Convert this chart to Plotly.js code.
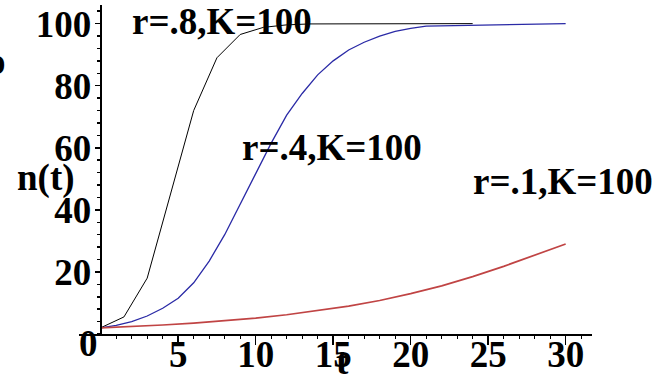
<!DOCTYPE html>
<html>
<head>
<meta charset="utf-8">
<script src="https://cdn.plot.ly/plotly-3.0.1.min.js"></script>
<style>
    html, body { margin: 0; padding: 0; background: #ffffff; }
    #chart { width: 670px; height: 375px; }
</style>
</head>
<body>
<div id="chart"></div>
<script>
// ---------- Data ---------- //
const tFast = [0, 1.5, 3, 4.5, 6, 7.5, 9, 10.5, 12, 13.5, 24];
const nFast = [2, 5.5, 18, 45, 72, 89, 96.5, 98.8, 99.6, 99.9, 100];

const tMid = [0, 1, 2, 3, 4, 5, 6, 7, 8, 9, 10, 11, 12, 13, 14, 15, 16, 17, 18, 19, 20, 21, 30];
const nMid = [2, 2.8, 4, 5.8, 8.3, 11.5, 16.5, 23.5, 32, 42, 52, 61.5, 70.5, 77.5, 83.5, 88, 91.5, 94, 96, 97.5, 98.5, 99.2, 100];

const tSlow = [0, 2, 4, 6, 8, 10, 12, 14, 16, 18, 20, 22, 24, 26, 28, 30];
const nSlow = [2, 2.4, 2.9, 3.5, 4.2, 5.1, 6.2, 7.5, 9, 10.8, 13, 15.5, 18.5, 21.8, 25.5, 29];

const xTicks = [5, 10, 15, 20, 25, 30];
const yTicks = [20, 40, 60, 80, 100];
const curveLabels = ['r=.8,K=100', 'r=.4,K=100', 'r=.1,K=100'];
// ---------- End of Data ---------- //

// ---------- Setup: Plot ---------- //
const xRange = [-1.4, 31.7];
const yRange = [0, 106];
const yAxisPos = (0 - xRange[0]) / (xRange[1] - xRange[0]); // y axis sits on t = 0

const labelFont = { family: 'Liberation Serif, Times New Roman, serif', size: 37, color: '#000000', weight: 'bold' };

const traces = [
    { x: tFast, y: nFast, type: 'scatter', mode: 'lines', line: { color: '#000000', width: 1 } },
    { x: tMid, y: nMid, type: 'scatter', mode: 'lines', line: { color: '#2a2aa6', width: 1.3 } },
    { x: tSlow, y: nSlow, type: 'scatter', mode: 'lines', line: { color: '#c04444', width: 1.7 } },
];

const minorX = Array.from({ length: 31 }, (_, i) => i + 1);

const plotlyLayout = {
    width: 670,
    height: 375,
    margin: { l: 79, r: 78, t: 5, b: 41 },
    paper_bgcolor: '#ffffff',
    plot_bgcolor: '#ffffff',
    showlegend: false,
    xaxis: {
        range: xRange,
        showline: true, linecolor: '#000000', linewidth: 2,
        showgrid: false, zeroline: false,
        ticks: 'outside', ticklen: 9, tickwidth: 1.5, tickcolor: '#000000',
        tickvals: xTicks,
        tickfont: labelFont,
        ticklabelstandoff: -22,
        minor: { tickvals: minorX, ticks: 'outside', ticklen: 3, tickwidth: 1, tickcolor: '#000000' },
    },
    xaxis2: {
        range: xRange, overlaying: 'x', anchor: 'y', side: 'bottom',
        showline: false, showgrid: false, zeroline: false, showticklabels: false,
        ticks: 'inside', ticklen: 5, tickwidth: 1.5, tickcolor: '#000000',
        tickvals: xTicks,
        minor: { tickvals: minorX, ticks: 'inside', ticklen: 3, tickwidth: 1, tickcolor: '#000000' },
    },
    yaxis: {
        range: yRange, anchor: 'free', position: yAxisPos, side: 'left',
        showline: true, linecolor: '#000000', linewidth: 2,
        showgrid: false, zeroline: false,
        ticks: 'outside', ticklen: 5, tickwidth: 1.5, tickcolor: '#000000',
        tickvals: yTicks,
        tickfont: labelFont,
        ticklabelstandoff: -4,
        minor: { dtick: 4, ticks: 'outside', ticklen: 3, tickwidth: 1.5, tickcolor: '#000000' },
    },
    yaxis2: {
        range: yRange, overlaying: 'y', anchor: 'free', position: yAxisPos, side: 'left',
        showline: false, showgrid: false, zeroline: false, showticklabels: false,
        ticks: 'inside', ticklen: 5, tickwidth: 1.5, tickcolor: '#000000',
        tickvals: yTicks,
        minor: { dtick: 4, ticks: 'inside', ticklen: 3, tickwidth: 1.5, tickcolor: '#000000' },
    },
    annotations: [
        { text: curveLabels[0], x: 1.9, y: 100.6, xanchor: 'left', yanchor: 'middle', showarrow: false, font: labelFont },
        { text: curveLabels[1], x: 9, y: 60, xanchor: 'left', yanchor: 'middle', showarrow: false, font: labelFont },
        { text: curveLabels[2], x: 23.9, y: 49, xanchor: 'left', yanchor: 'middle', showarrow: false, font: labelFont },
        { text: '0', x: 0, y: 0, xanchor: 'right', yanchor: 'top', xshift: -1, yshift: 13, showarrow: false, font: labelFont },
        { text: 'n(t)', xref: 'paper', yref: 'paper', x: -0.125, y: 0.475, xanchor: 'left', yanchor: 'middle', showarrow: false, font: labelFont },
        { text: 't', xref: 'paper', yref: 'paper', x: 0.513, y: 0, xanchor: 'center', yanchor: 'middle', yshift: -27, showarrow: false, font: labelFont },
        { text: 'o', xref: 'paper', yref: 'paper', x: -0.138, y: 0.827, xanchor: 'right', yanchor: 'middle', showarrow: false, font: labelFont },
    ],
};

const plotlyConfig = { displayModeBar: false, staticPlot: true };

Plotly.newPlot('chart', traces, plotlyLayout, plotlyConfig);
// ---------- End of Plot ---------- //
</script>
</body>
</html>
